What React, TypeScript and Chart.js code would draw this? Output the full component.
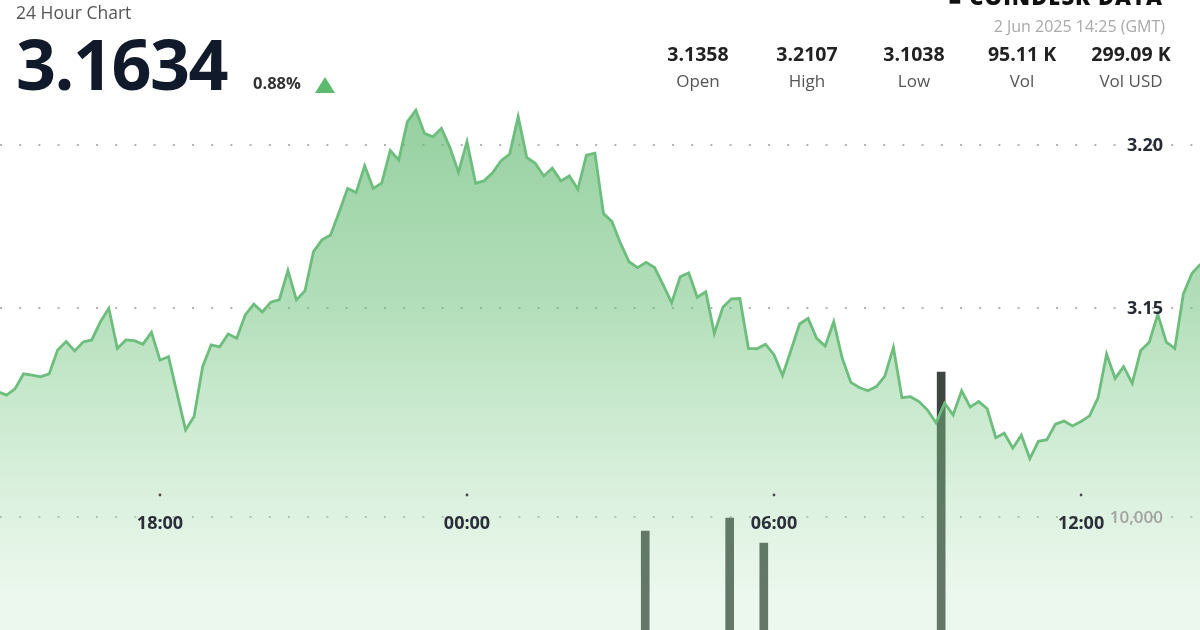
import React, { useEffect, useRef } from 'react';
import { Chart, registerables } from 'chart.js';

Chart.register(...registerables);

// Sampling: 10-minute closes, minutes relative to 00:00 GMT on 2 Jun 2025 (negative = 1 Jun)
const START_MINUTE = -550; // 14:50 on 1 Jun
const STEP_MINUTES = 10;

const prices = [
  3.1243, 3.1233, 3.1252, 3.1298, 3.1294, 3.1289, 3.1298, 3.1371, 3.1397, 3.1368,
  3.1396, 3.1402, 3.1457, 3.1499, 3.1376, 3.1402, 3.14, 3.1389, 3.1425, 3.134,
  3.1351, 3.1238, 3.1126, 3.1167, 3.132, 3.1387, 3.1381, 3.142, 3.1407, 3.1479,
  3.1512, 3.1488, 3.1518, 3.1526, 3.1615, 3.1525, 3.1553, 3.1673, 3.1709, 3.1724,
  3.1794, 3.1867, 3.1854, 3.1936, 3.1867, 3.1883, 3.1983, 3.1954, 3.2071, 3.2107,
  3.2036, 3.2025, 3.2051, 3.1992, 3.1916, 3.201, 3.1883, 3.189, 3.1915, 3.1952,
  3.1972, 3.2087, 3.1962, 3.1944, 3.1905, 3.1929, 3.189, 3.1905, 3.1864, 3.1969,
  3.1975, 3.179, 3.1765, 3.1698, 3.1642, 3.1624, 3.164, 3.1624, 3.1571, 3.1516,
  3.1596, 3.1608, 3.1533, 3.155, 3.1422, 3.1502, 3.1528, 3.1529, 3.1376, 3.1375,
  3.1389, 3.1357, 3.1293, 3.1371, 3.1451, 3.1468, 3.1407, 3.1383, 3.1458, 3.1346,
  3.1272, 3.1256, 3.1246, 3.1259, 3.1291, 3.1379, 3.1225, 3.1228, 3.1213, 3.1187,
  3.1148, 3.1208, 3.1172, 3.1246, 3.1196, 3.1213, 3.1191, 3.1102, 3.1116, 3.107,
  3.111, 3.1038, 3.1091, 3.1096, 3.1144, 3.1153, 3.1138, 3.1152, 3.1169, 3.1225,
  3.1359, 3.1284, 3.132, 3.1269, 3.137, 3.1395, 3.1481, 3.1395, 3.1376, 3.1543,
  3.1606, 3.1634,
];

const volumeMinutes = [209, 308, 348, 556];
const volumes = [8760, 9910, 7700, 22830];

const timeTickMinutes = [-360, 0, 360, 720];
const timeTickLabels = ['18:00', '00:00', '06:00', '12:00'];
const priceTicks = [3.2, 3.15];
const priceTickLabels = ['3.20', '3.15'];
const volumeTicks = [10000];
const volumeTickLabels = ['10,000'];

const X_MIN = -547.6;
const X_MAX = 859.5;
const PRICE_MIN = 3.05123;
const PRICE_MAX = 3.24448;
const VOL_MAX = 55752;

const statValues = ['3.1358', '3.2107', '3.1038', '95.11 K', '299.09 K'];
const statLabels = ['Open', 'High', 'Low', 'Vol', 'Vol USD'];
const statCenters = [698, 807, 914, 1022, 1131];

const FONT = '"Open Sans", "Noto Sans", sans-serif';

const decorPlugin = {
  id: 'decor',
  beforeDatasetsDraw(chart: any) {
    const { ctx, chartArea, scales } = chart;
    ctx.save();
    ctx.strokeStyle = '#b4b4b4';
    ctx.lineWidth = 2;
    ctx.setLineDash([2, 17.2]);
    const ys = [
      ...priceTicks.map((v) => scales.y.getPixelForValue(v)),
      ...volumeTicks.map((v) => scales.yv.getPixelForValue(v)),
    ];
    ys.forEach((y) => {
      ctx.beginPath();
      ctx.moveTo(chartArea.left, Math.round(y));
      ctx.lineTo(chartArea.right, Math.round(y));
      ctx.stroke();
    });
    ctx.restore();
  },
  afterDatasetsDraw(chart: any) {
    const { ctx, chartArea, scales } = chart;
    ctx.save();
    const rightX = chartArea.right - 37;
    ctx.textAlign = 'right';
    ctx.textBaseline = 'middle';
    ctx.font = `700 18px ${FONT}`;
    ctx.fillStyle = '#262b36';
    priceTicks.forEach((v, i) => {
      ctx.fillText(priceTickLabels[i], rightX, scales.y.getPixelForValue(v) + 1);
    });
    ctx.font = `600 17px ${FONT}`;
    ctx.fillStyle = '#a3a3a3';
    volumeTicks.forEach((v, i) => {
      ctx.fillText(volumeTickLabels[i], rightX, scales.yv.getPixelForValue(v) + 1);
    });
    const baseY = scales.yv.getPixelForValue(volumeTicks[0]);
    ctx.textAlign = 'center';
    ctx.font = `700 18px ${FONT}`;
    timeTickMinutes.forEach((m, i) => {
      const x = scales.x.getPixelForValue(m);
      ctx.fillStyle = '#4a4a4a';
      ctx.beginPath();
      ctx.arc(x, baseY - 22, 1.4, 0, Math.PI * 2);
      ctx.fill();
      ctx.fillStyle = '#2a2f3a';
      ctx.fillText(timeTickLabels[i], x, baseY + 7);
    });
    ctx.restore();
  },
};

function fillGradient(context: any) {
  const chart = context.chart;
  const { ctx, chartArea } = chart;
  if (!chartArea) return 'rgba(120,195,135,0.4)';
  const top = chartArea.top + 110;
  const bottom = chartArea.bottom;
  const g = ctx.createLinearGradient(0, top, 0, bottom);
  g.addColorStop(0, 'rgba(94,183,109,0.65)');
  g.addColorStop(0.365, 'rgba(101,189,115,0.5)');
  g.addColorStop(0.654, 'rgba(137,208,147,0.38)');
  g.addColorStop(0.942, 'rgba(192,232,198,0.3)');
  g.addColorStop(1, 'rgba(192,232,198,0.3)');
  return g;
}

export default function App() {
  const canvasRef = useRef<HTMLCanvasElement | null>(null);

  useEffect(() => {
    const canvas = canvasRef.current;
    if (!canvas) return;
    const linePoints = prices.map((p, i) => ({ x: START_MINUTE + i * STEP_MINUTES, y: p }));
    const volPoints = volumes.map((v, i) => ({ x: volumeMinutes[i], y: v }));
    const chart = new Chart(canvas, {
      type: 'line',
      data: {
        datasets: [
          {
            type: 'line',
            data: linePoints,
            yAxisID: 'y',
            borderColor: '#6dbd7d',
            borderWidth: 2.8,
            pointRadius: 0,
            tension: 0,
            fill: 'start',
            backgroundColor: fillGradient,
            order: 1,
          } as any,
          {
            type: 'bar',
            data: volPoints,
            yAxisID: 'yv',
            backgroundColor: '#3d4641',
            barThickness: 8,
            order: 2,
          } as any,
        ],
      },
      options: {
        responsive: false,
        animation: false,
        devicePixelRatio: 1,
        layout: { padding: 0 },
        plugins: { legend: { display: false }, tooltip: { enabled: false } },
        scales: {
          x: { type: 'linear', min: X_MIN, max: X_MAX, display: false, offset: false },
          y: { type: 'linear', min: PRICE_MIN, max: PRICE_MAX, display: false },
          yv: { type: 'linear', min: 0, max: VOL_MAX, display: false },
        },
      } as any,
      plugins: [decorPlugin],
    });
    return () => chart.destroy();
  }, []);

  const abs = (o: React.CSSProperties): React.CSSProperties => ({
    position: 'absolute',
    whiteSpace: 'nowrap',
    fontFamily: FONT,
    ...o,
  });

  return (
    <div
      style={{
        position: 'absolute',
        left: 0,
        top: 0,
        width: 1200,
        height: 630,
        overflow: 'hidden',
        background: '#ffffff',
      }}
    >
      <canvas ref={canvasRef} width={1200} height={630} style={{ position: 'absolute', left: 0, top: 0 }} />
      <div style={abs({ left: 16, top: 3.5, fontSize: 17.5, lineHeight: '17.5px', color: '#555555' })}>
        24 Hour Chart
      </div>
      <div
        style={abs({
          left: 16,
          top: 27.8,
          fontSize: 70,
          lineHeight: '70px',
          fontWeight: 700,
          letterSpacing: '-1.5px',
          color: '#111a2b',
        })}
      >
        3.1634
      </div>
      <div style={abs({ left: 253, top: 74.5, fontSize: 16.5, lineHeight: '16.5px', fontWeight: 700, color: '#333333' })}>
        0.88%
      </div>
      <div
        style={{
          position: 'absolute',
          left: 315,
          top: 77,
          width: 0,
          height: 0,
          borderLeft: '10.5px solid transparent',
          borderRight: '10.5px solid transparent',
          borderBottom: '16px solid #5cb96d',
        }}
      />
      <div
        style={abs({
          right: 37,
          top: -15,
          fontSize: 22,
          lineHeight: '22px',
          fontWeight: 800,
          color: '#111111',
          letterSpacing: '1px',
        })}
      >
        ■ COINDESK DATA
      </div>
      <div style={abs({ right: 35, top: 17.8, fontSize: 16, lineHeight: '16px', color: '#a9a9a9' })}>
        2 Jun 2025 14:25 (GMT)
      </div>
      {statValues.map((v, i) => (
        <div
          key={'v' + i}
          style={abs({
            left: statCenters[i] - 60,
            width: 120,
            textAlign: 'center',
            top: 43.7,
            fontSize: 19.5,
            lineHeight: '19.5px',
            fontWeight: 700,
            color: '#222222',
          })}
        >
          {v}
        </div>
      ))}
      {statLabels.map((l, i) => (
        <div
          key={'l' + i}
          style={abs({
            left: statCenters[i] - 60,
            width: 120,
            textAlign: 'center',
            top: 72.4,
            fontSize: 17,
            lineHeight: '17px',
            color: '#555555',
          })}
        >
          {l}
        </div>
      ))}
    </div>
  );
}
